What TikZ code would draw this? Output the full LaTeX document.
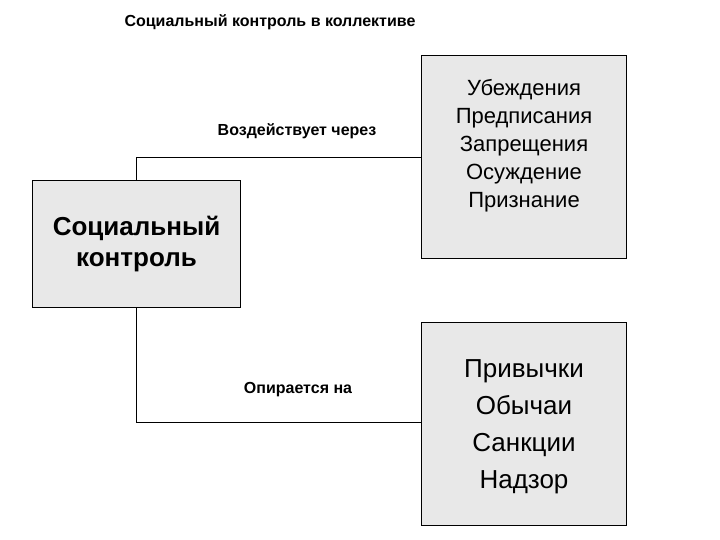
\documentclass[tikz,border=0pt]{standalone}
\usepackage{fontspec}
\setmainfont{Liberation Sans}
\begin{document}
\begin{tikzpicture}[x=1pt,y=-1pt,
  box/.style={draw=black,fill=gray!18,line width=1pt,anchor=north west,inner sep=0pt},
  lbl/.style={font=\bfseries\fontsize{16}{19}\selectfont},
  conn/.style={draw=black,line width=0.8pt}]
\useasboundingbox (0,0) rectangle (720,540);
\node[lbl] (title) at (270,22) {Социальный контроль в коллективе};
\node[box,minimum width=208pt,minimum height=127pt] (sc) at (32,180) {};
\node[font=\bfseries\fontsize{26}{31}\selectfont,align=center] (sct) at (sc.center) {Социальный\\контроль};
\node[box,minimum width=205pt,minimum height=203pt] (b1) at (421,55) {};
\node[font=\fontsize{22}{28}\selectfont,align=center] (b1t) at (524,146) {Убеждения\\Предписания\\Запрещения\\Осуждение\\Признание};
\node[box,minimum width=205pt,minimum height=203pt] (b2) at (421,322) {};
\node[font=\fontsize{26}{37}\selectfont,align=center] (b2t) at (524,427) {Привычки\\Обычаи\\Санкции\\Надзор};
\coordinate (c1) at (136,157);
\coordinate (c2) at (136,422);
\draw[conn] (sc.north -| c1) -- (c1) -- (c1 -| b1.west);
\draw[conn] (sc.south -| c2) -- (c2) -- (c2 -| b2.west);
\node[lbl] (l1) at (297,131) {Воздействует через};
\node[lbl] (l2) at (298,390) {Опирается на};
\end{tikzpicture}
\end{document}
